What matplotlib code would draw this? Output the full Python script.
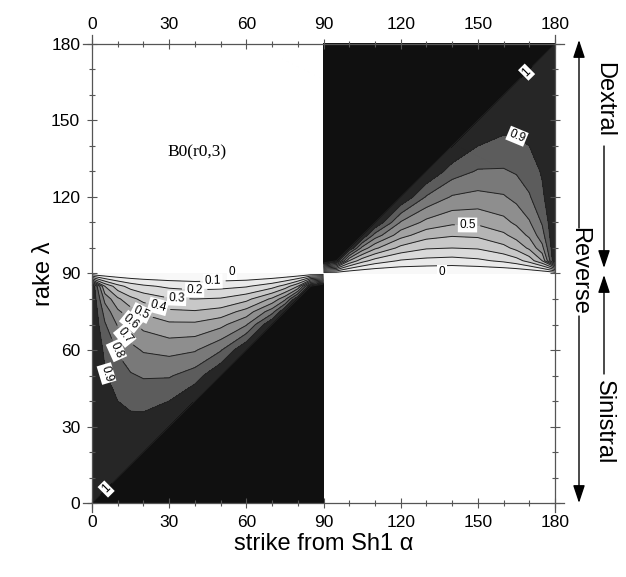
import matplotlib
matplotlib.use("Agg")
import matplotlib.pyplot as plt
import numpy as np

plt.rcParams['font.family'] = ['Liberation Sans', 'DejaVu Sans']

# nodes (degrees) used for both strike and rake in the lower-left quadrant
grid_deg = [0, 5, 10, 15, 20, 30, 40, 50, 60, 70, 75, 80, 85, 90]

# B0 read off the lower-left quadrant, one row per rake node, one column per strike node
# 1.2 = saturated black area (B0 > 1)
b0_rows = [
    [1.00, 1.20, 1.20, 1.20, 1.20, 1.20, 1.20, 1.20, 1.20, 1.20, 1.20, 1.20, 1.20, 1.20],  # 0
    [1.00, 1.00, 1.20, 1.20, 1.20, 1.20, 1.20, 1.20, 1.20, 1.20, 1.20, 1.20, 1.20, 1.20],  # 5
    [1.00, 0.99, 1.00, 1.20, 1.20, 1.20, 1.20, 1.20, 1.20, 1.20, 1.20, 1.20, 1.20, 1.20],  # 10
    [1.00, 0.98, 0.98, 1.00, 1.20, 1.20, 1.20, 1.20, 1.20, 1.20, 1.20, 1.20, 1.20, 1.20],  # 15
    [1.00, 0.98, 0.97, 0.98, 1.00, 1.20, 1.20, 1.20, 1.20, 1.20, 1.20, 1.20, 1.20, 1.20],  # 20
    [1.00, 0.96, 0.94, 0.93, 0.94, 1.00, 1.20, 1.20, 1.20, 1.20, 1.20, 1.20, 1.20, 1.20],  # 30
    [1.00, 0.94, 0.90, 0.88, 0.87, 0.90, 1.00, 1.20, 1.20, 1.20, 1.20, 1.20, 1.20, 1.20],  # 40
    [1.00, 0.91, 0.85, 0.81, 0.79, 0.79, 0.85, 1.00, 1.20, 1.20, 1.20, 1.20, 1.20, 1.20],  # 50
    [1.00, 0.88, 0.79, 0.73, 0.69, 0.67, 0.69, 0.79, 1.00, 1.20, 1.20, 1.20, 1.20, 1.20],  # 60
    [1.00, 0.81, 0.69, 0.62, 0.57, 0.52, 0.52, 0.57, 0.69, 1.00, 1.20, 1.20, 1.20, 1.20],  # 70
    [1.00, 0.76, 0.62, 0.54, 0.48, 0.42, 0.41, 0.44, 0.54, 0.76, 1.00, 1.20, 1.20, 1.20],  # 75
    [1.00, 0.67, 0.52, 0.43, 0.37, 0.31, 0.30, 0.31, 0.37, 0.52, 0.67, 1.00, 1.20, 1.20],  # 80
    [1.00, 0.50, 0.34, 0.26, 0.22, 0.18, 0.16, 0.17, 0.19, 0.26, 0.34, 0.50, 1.00, 1.20],  # 85
    [0.00, 0.00, 0.00, 0.00, 0.00, 0.00, 0.00, 0.00, 0.00, 0.00, 0.00, 0.00, 0.00, 0.00],  # 90
]

fill_levels = [0, 0.1, 0.2, 0.3, 0.4, 0.5, 0.6, 0.7, 0.8, 0.9, 1.0, 1.3]
line_levels = [0.1, 0.2, 0.3, 0.4, 0.5, 0.6, 0.7, 0.8, 0.9, 1.0]
band_colors = ['#f8f8f8', '#eaeaea', '#dadada', '#c8c8c8', '#b5b5b5', '#a2a2a2',
               '#8e8e8e', '#797979', '#5c5c5c', '#262626', '#101010']

tick_major = [0, 30, 60, 90, 120, 150, 180]

g = np.array(grid_deg, dtype=float)
z = np.array(b0_rows)

fig = plt.figure(figsize=(6.26, 5.77), dpi=100)
ax = fig.add_axes([0.1326, 0.1127, 0.7684, 0.8266])

# lower-left quadrant and its 180 deg rotated copy (upper-right)
quads = [(g, g), (180 - g, 180 - g)]
cset = []
for qx, qy in quads:
    ax.contourf(qx, qy, z, levels=fill_levels, colors=band_colors)
    cs = ax.contour(qx, qy, z, levels=line_levels, colors='#222222', linewidths=0.7)
    cset.append(cs)

fmt = lambda v: f'{v:g}'
pos_ll = [(47, 87.5), (40, 85), (33, 82), (26, 78.5), (19, 74.5), (14.5, 70),
          (12, 65), (10, 60), (6.5, 51), (5, 6)]
pos_ur = [(168.4, 169.5), (165.6, 144.3), (146, 110)]
for cs, pos in zip(cset, [pos_ll, pos_ur]):
    ax.clabel(cs, line_levels, manual=pos, inline=True, fmt=fmt, fontsize=8.5,
              colors='black')
for t in ax.texts:
    t.set_bbox(dict(boxstyle='square,pad=0.12', fc='white', ec='none'))

# zero labels on the rake = 90 edge
for x0 in (54.5, 136):
    ax.text(x0, 90.5, '0', fontsize=8.5, ha='center', va='center',
            bbox=dict(boxstyle='square,pad=0.12', fc='white', ec='none'))

ax.text(40.8, 137.6, 'B0(r0,3)', family=['Liberation Serif', 'DejaVu Serif'],
        fontsize=12.5, ha='center', va='center')

ax.set_xlim(-3.5, 183.5)
ax.set_ylim(-3.5, 183.5)
frame_col = '#555555'
for side, pos in [('left', 0), ('bottom', 0), ('right', 180), ('top', 180)]:
    ax.spines[side].set_position(('data', pos))
    ax.spines[side].set_color(frame_col)
    ax.spines[side].set_linewidth(0.9)
ax.set_xticks(tick_major)
ax.set_yticks(tick_major)
ax.set_xticks(range(0, 181, 10), minor=True)
ax.set_yticks(range(0, 181, 10), minor=True)
ax.tick_params(which='both', direction='inout', top=True, right=True,
               labeltop=True, labelright=False, color=frame_col, width=0.8)
ax.tick_params(which='major', length=7, labelsize=12.5, pad=5)
ax.tick_params(which='minor', length=5)

ax.set_xlabel('strike from Sh1 \u03b1', fontsize=17, labelpad=2)
ax.set_ylabel('rake \u03bb', fontsize=17, labelpad=-3)


def fpx(px, py):
    return (px / 626, 1 - py / 577)


arr = dict(arrowstyle='-|>,head_length=0.9,head_width=0.3', color='black', lw=1,
           mutation_scale=12, shrinkA=0, shrinkB=0)
ax.annotate('', xy=fpx(579, 40), xytext=fpx(579, 228), xycoords='figure fraction',
            arrowprops=arr)
ax.annotate('', xy=fpx(579, 503), xytext=fpx(579, 316), xycoords='figure fraction',
            arrowprops=arr)
ax.annotate('', xy=fpx(604, 268), xytext=fpx(604, 146), xycoords='figure fraction',
            arrowprops=arr)
ax.annotate('', xy=fpx(604, 275), xytext=fpx(604, 374), xycoords='figure fraction',
            arrowprops=arr)
for txt, px, py in [('Reverse', 579, 271), ('Dextral', 604, 100), ('Sinistral', 604, 422)]:
    fig.text(*fpx(px, py), txt, rotation=270, fontsize=17, ha='center', va='center')

fig.savefig('out.png', dpi=100)
